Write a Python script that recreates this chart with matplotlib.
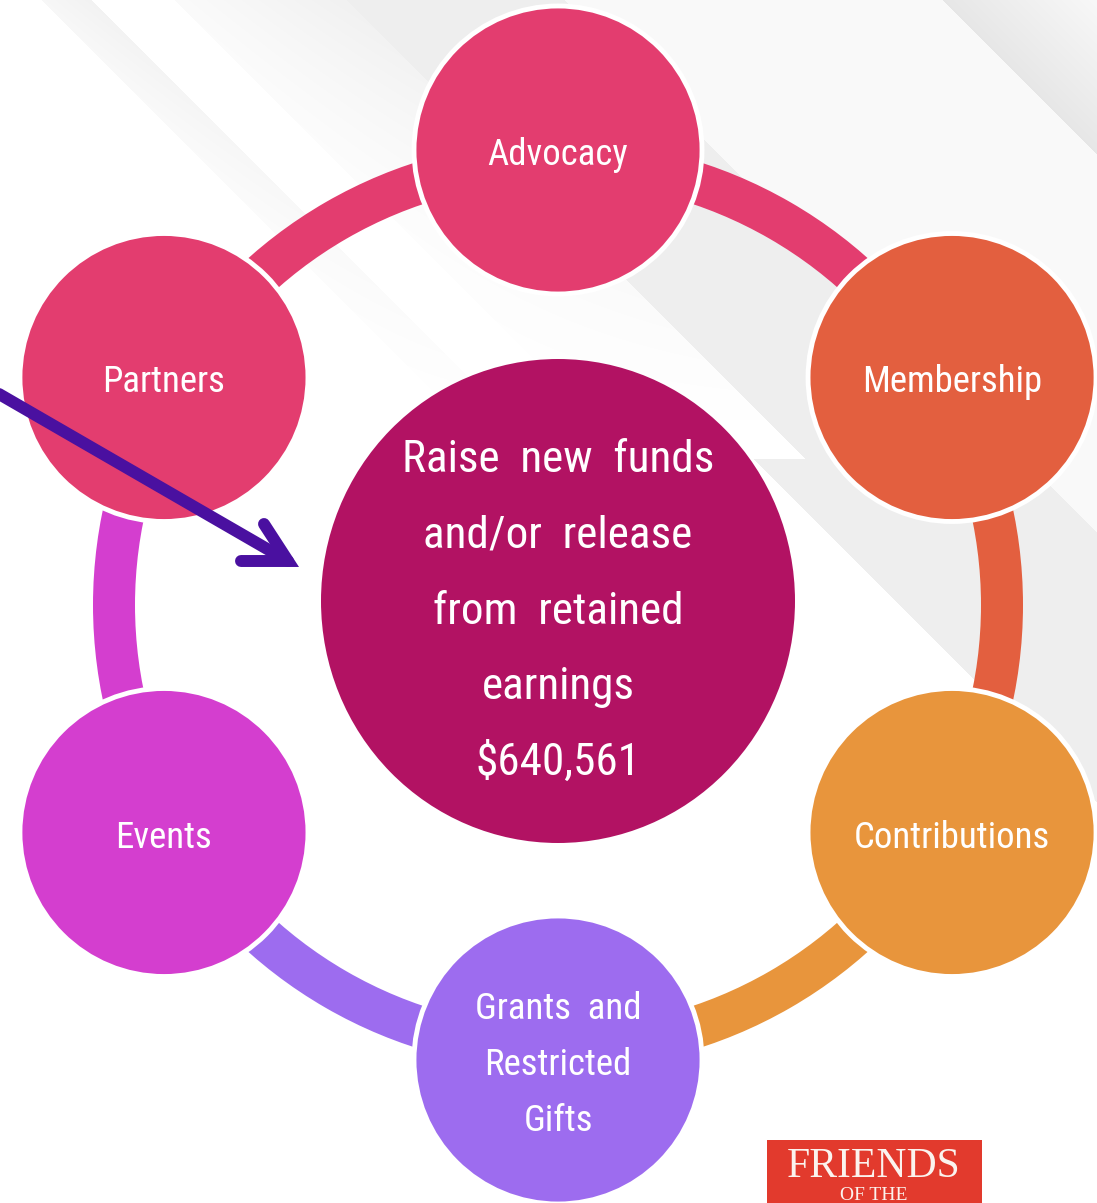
import numpy as np
import matplotlib
matplotlib.use("Agg")
import matplotlib.pyplot as plt
from matplotlib.patches import Circle, Ellipse, Wedge, Rectangle
from matplotlib import font_manager as fm

# ---------------- data ----------------
node_labels = ["Advocacy", "Membership", "Contributions",
               "Grants  and\nRestricted\nGifts", "Events", "Partners"]
node_colors = ["#E33D6F", "#E35F3F", "#E8953C", "#9D6CEF", "#D43ECF", "#E33D6F"]
node_angles = [-90, -30, 30, 90, 150, 210]   # degrees, screen clockwise from +x

center_lines = ["Raise  new  funds", "and/or  release", "from  retained", "earnings", "$640,561"]
center_color = "#B21263"
arrow_color = "#4A10A0"
logo_lines = ["FRIENDS", "OF THE"]
logo_color = "#E23A2D"

W, H = 1097, 1203
CX, CY = 558, 605
R_NODE = 455
NODE_R = 144
RING_OUT, RING_W = 465, 42


# ---------------- pick a narrow font if one is installed ----------------
def pick_narrow():
    prefs = ["liberationsansnarrow-regular", "robotocondensed-regular",
             "opensanscondensed", "dejavusanscondensed.ttf",
             "notosans-condensed", "roboto_condensed", "condensed", "narrow"]
    files = [f.fname for f in fm.fontManager.ttflist]
    for p in prefs:
        for f in files:
            low = f.lower().replace(" ", "")
            base = low.split("/")[-1]
            if p in base and "bold" not in base and "italic" not in base \
                    and "oblique" not in base and "light" not in base:
                return fm.FontProperties(fname=f)
    return fm.FontProperties(family="DejaVu Sans")


NARROW = pick_narrow()


def fp(size):
    p = NARROW.copy()
    p.set_size(size)
    return p


fig = plt.figure(figsize=(W / 100, H / 100), dpi=100)
ax = fig.add_axes([0, 0, 1, 1])
ax.set_xlim(0, W)
ax.set_ylim(H, 0)
ax.axis("off")

# ---------------- background diagonal stripes ----------------
yy, xx = np.mgrid[0:H, 0:W].astype(float)
c = xx - yy
val = np.ones((H, W))
fade = np.clip(1 - yy / 420.0, 0, 1)
m = (c >= 42) & (c < 92)
val[m] = 1 - (0.05 * fade * (0.6 + 0.4 * (c - 42) / 50))[m]
m = (c >= 175) & (c < 347)
val[m] = 1 - (0.055 * fade * (0.3 + 0.7 * (c - 175) / 172))[m]
m = (c >= 347) & (c < 565)
val[m] = 0.935
m = (c >= 295) & (c < 347) & (yy > 458)
val[m] = 0.935
m = (c >= 565) & (c < 943)
val[m] = 0.978
m = (c >= 943)
val[m] = (0.905 + 0.07 * np.clip((c - 943) / 160, 0, 1))[m]
img = np.dstack([val, val, val])
ax.imshow(img, extent=[0, W, H, 0], zorder=0, interpolation="bilinear")

# ---------------- ring arcs ----------------
for ang, col in zip(node_angles, node_colors):
    ax.add_patch(Wedge((CX, CY), RING_OUT, ang, ang + 60, width=RING_W,
                       facecolor=col, edgecolor="none", zorder=2))

# ---------------- nodes ----------------
for ang, col, lab in zip(node_angles, node_colors, node_labels):
    nx = CX + R_NODE * np.cos(np.radians(ang))
    ny = CY + R_NODE * np.sin(np.radians(ang))
    ax.add_patch(Circle((nx, ny), NODE_R, facecolor=col, edgecolor="white",
                        linewidth=3.5, zorder=3))
    nlines = lab.split("\n")
    pitch = 56
    base0 = ny + 15 - pitch * (len(nlines) - 1) / 2
    for i, ln in enumerate(nlines):
        ax.text(nx, base0 + i * pitch, ln, color="white", fontproperties=fp(26.5),
                ha="center", va="baseline", zorder=5)

# ---------------- center ----------------
ax.add_patch(Ellipse((558, 601), 474, 484, facecolor=center_color,
                     edgecolor="none", zorder=3))
for i, ln in enumerate(center_lines):
    ax.text(558, 472 + i * 75.8, ln, color="white", fontproperties=fp(32.5),
            ha="center", va="baseline", zorder=5)

# ---------------- arrow ----------------
tip = (288, 561)
ax.plot([-20, tip[0]], [383, tip[1]], color=arrow_color, lw=8.6,
        solid_capstyle="round", zorder=6)
ax.plot([264, tip[0], 241], [524, tip[1], 561], color=arrow_color, lw=8.6,
        solid_capstyle="round", solid_joinstyle="miter", zorder=6)

# ---------------- logo ----------------
ax.add_patch(Rectangle((767, 1140), 215, 80, facecolor=logo_color,
                       edgecolor="none", zorder=4))
ax.text(874, 1177, logo_lines[0], color="#FBF3EE", fontsize=30,
        family=["Liberation Serif", "DejaVu Serif"], ha="center", va="baseline", zorder=5)
ax.text(874, 1200, logo_lines[1], color="#FBF3EE", fontsize=14,
        family=["Liberation Serif", "DejaVu Serif"], ha="center", va="baseline", zorder=5)

fig.savefig("out.png", dpi=100)
